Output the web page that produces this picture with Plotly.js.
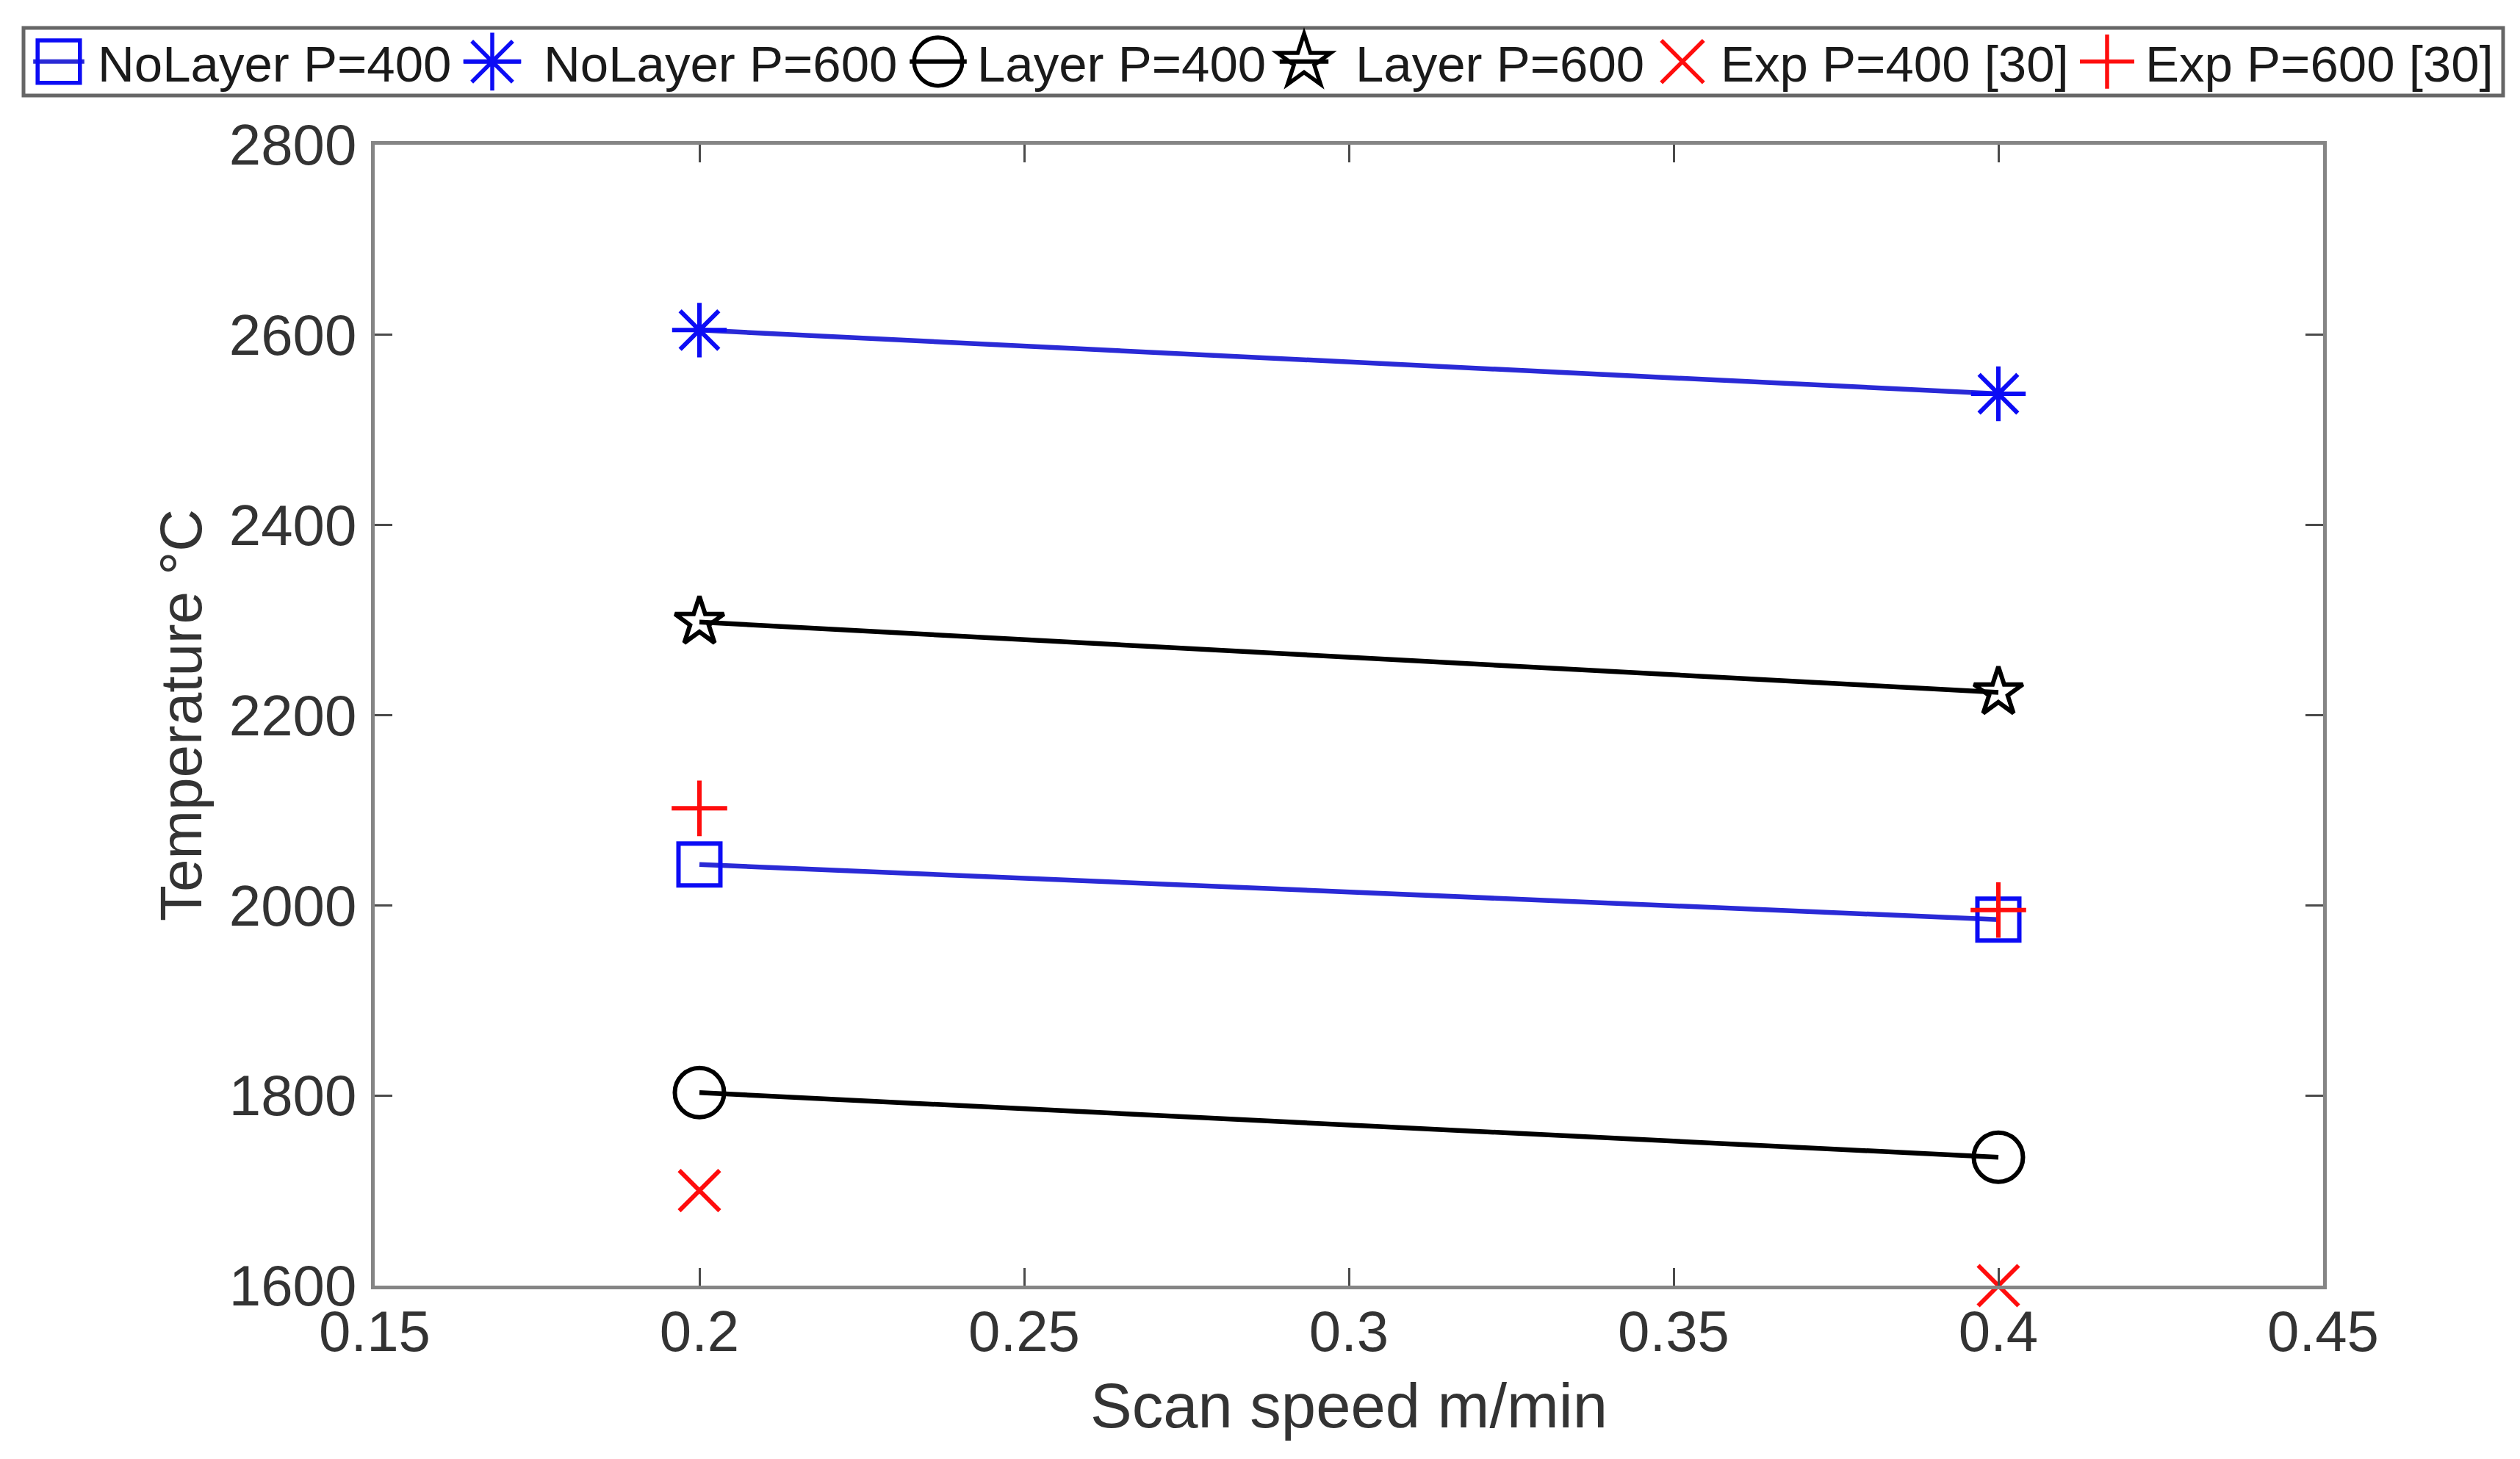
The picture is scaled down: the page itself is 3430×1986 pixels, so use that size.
<!DOCTYPE html>
<html>
<head>
<meta charset="utf-8">
<script src="https://cdn.plot.ly/plotly-3.0.1.min.js"></script>
<style>html,body{margin:0;padding:0;background:#fff;}#chart{width:3430px;height:1986px;}</style>
</head>
<body>
<div id="chart"></div>
<script>
// ---- Data ----
const scanSpeed = [0.2, 0.4];
const noLayerP400 = [2043, 1985];
const noLayerP600 = [2605, 2538];
const layerP400 = [1803, 1735];
const layerP600 = [2298, 2224];
const expP400 = [1700, 1600];
const expP600 = [2102, 1995];
const seriesNames = ['NoLayer P=400', 'NoLayer P=600', 'Layer P=400', 'Layer P=600', 'Exp P=400 [30]', 'Exp P=600 [30]'];
const xTicks = [0.15, 0.2, 0.25, 0.3, 0.35, 0.4, 0.45];
const xTickText = ['0.15', '0.2', '0.25', '0.3', '0.35', '0.4', '0.45'];
const yTicks = [1600, 1800, 2000, 2200, 2400, 2600, 2800];

// ---- Styling ----
const W = 3430, H = 1986;
const M = {l: 510, r: 268, t: 197, b: 236};
const PW = W - M.l - M.r, PH = H - M.t - M.b;
const BLUE = '#0c0cf5', BLUE_LINE = '#2a2ad6', BLACK = '#000000', RED = '#ff0d0d';
const FONT = 'Liberation Sans, Arial, Helvetica, sans-serif';

// legend item layout (pixels): symbol centre and text start for each entry
const legSymbolX = [80, 670, 1277, 1775, 2290, 2868];
const legTextX = [133, 740, 1330, 1845, 2342, 2920];
const legCenterY = 84;
const legBox = {x0: 32, x1: 3407, y0: 38, y1: 130};

// choose legend font: the reference legend text is condensed
function textWidth(font, txt) {
  const c = document.createElement('canvas').getContext('2d');
  c.font = font; return c.measureText(txt).width;
}
const narrowW = textWidth('100px "Liberation Sans Narrow", monospace', seriesNames[5]);
const regW = textWidth('100px "Liberation Sans", monospace', seriesNames[5]);
const hasNarrow = narrowW < 0.9 * regW;
const LEG_FONT = hasNarrow ? '"Liberation Sans Narrow", Liberation Sans, Arial, sans-serif' : FONT;
const LEG_SIZE = hasNarrow ? 84 : 69;

const styles = [
  {mode: 'lines+markers', color: BLUE, line: BLUE_LINE, symbol: 'square-open', size: 57, leg: 3.6},
  {mode: 'lines+markers', color: BLUE, line: BLUE_LINE, symbol: 'asterisk-open', size: 62, leg: 4.1},
  {mode: 'lines+markers', color: BLACK, line: BLACK, symbol: 'circle-open', size: 67, leg: 4.1},
  {mode: 'lines+markers', color: BLACK, line: BLACK, symbol: 'star-open', size: 50, leg: 3.4},
  {mode: 'markers', color: RED, line: RED, symbol: 'x-thin-open', size: 55, leg: 3.6},
  {mode: 'markers', color: RED, line: RED, symbol: 'cross-thin-open', size: 54, leg: 3.3}
];
const seriesY = [noLayerP400, noLayerP600, layerP400, layerP600, expP400, expP600];

const traces = seriesY.map(function (y, i) {
  const s = styles[i];
  const t = {
    type: 'scatter', x: scanSpeed, y: y, name: seriesNames[i], mode: s.mode,
    legend: i === 0 ? 'legend' : 'legend' + (i + 1),
    marker: {symbol: s.symbol, size: s.size, color: s.color, line: {color: s.color, width: 6}},
    cliponaxis: false
  };
  if (s.mode.indexOf('lines') >= 0) t.line = {color: s.line, width: 6.5};
  return t;
});

const axisCommon = {
  showgrid: false, zeroline: false,
  showline: true, linecolor: '#858585', linewidth: 5, mirror: 'ticks',
  ticks: 'inside', ticklen: 24, tickwidth: 3, tickcolor: '#4a4a4a',
  tickfont: {family: FONT, size: 78, color: '#333333'}
};

const layout = {
  width: W, height: H,
  paper_bgcolor: '#ffffff', plot_bgcolor: '#ffffff',
  margin: {l: M.l, r: M.r, t: M.t, b: M.b, autoexpand: false},
  xaxis: Object.assign({}, axisCommon, {
    range: [0.15, 0.45], tickmode: 'array', tickvals: xTicks, ticktext: xTickText,
    ticklabelstandoff: -10,
    title: {text: 'Scan speed m/min', font: {family: FONT, size: 85, color: '#333333'}, standoff: 30}
  }),
  yaxis: Object.assign({}, axisCommon, {
    range: [1600, 2800], tickmode: 'array', tickvals: yTicks,
    ticklabelstandoff: 4,
    title: {text: 'Temperature °C', font: {family: FONT, size: 80, color: '#333333'}, standoff: 12}
  }),
  showlegend: true,
  shapes: [{
    type: 'rect', xref: 'paper', yref: 'paper', layer: 'above',
    x0: (legBox.x0 - M.l) / PW, x1: (legBox.x1 - M.l) / PW,
    y0: 1 + (M.t - legBox.y1) / PH, y1: 1 + (M.t - legBox.y0) / PH,
    line: {color: '#666666', width: 5}, fillcolor: '#ffffff'
  }]
};

seriesNames.forEach(function (n, i) {
  const iw = 2 * (legTextX[i] - legSymbolX[i]) - 10;
  layout[i === 0 ? 'legend' : 'legend' + (i + 1)] = {
    orientation: 'h', xref: 'container', yref: 'container',
    x: (legTextX[i] - iw - 10) / W, xanchor: 'left',
    y: 1 - legCenterY / H, yanchor: 'middle',
    bgcolor: 'rgba(0,0,0,0)', borderwidth: 0,
    font: {family: LEG_FONT, size: LEG_SIZE, color: '#1a1a1a'},
    itemwidth: iw
  };
});

Plotly.newPlot('chart', traces, layout, {staticPlot: true, displayModeBar: false}).then(function (gd) {
  // enlarge the legend symbols (Plotly caps them at 16px) to the reference proportions
  seriesNames.forEach(function (n, i) {
    const id = i === 0 ? 'legend' : 'legend' + (i + 1);
    const g = gd.querySelector('g.' + id);
    if (!g) return;
    const sc = styles[i].leg;
    const iw = 2 * (legTextX[i] - legSymbolX[i]) - 10;
    const c = (iw + 10) / 2;
    g.querySelectorAll('.legendpoints path.scatterpts').forEach(function (p) {
      const t = p.getAttribute('transform') || '';
      p.setAttribute('transform', t + ' scale(' + sc + ')');
      p.style.strokeWidth = (5.5 / sc) + 'px';
    });
    g.querySelectorAll('.legendlines path').forEach(function (p) {
      const len = 16 * sc + 12;
      p.setAttribute('d', 'M' + (c - len / 2) + ',0h' + len);
      p.style.strokeWidth = '6px';
    });
  });
});
</script>
</body>
</html>
